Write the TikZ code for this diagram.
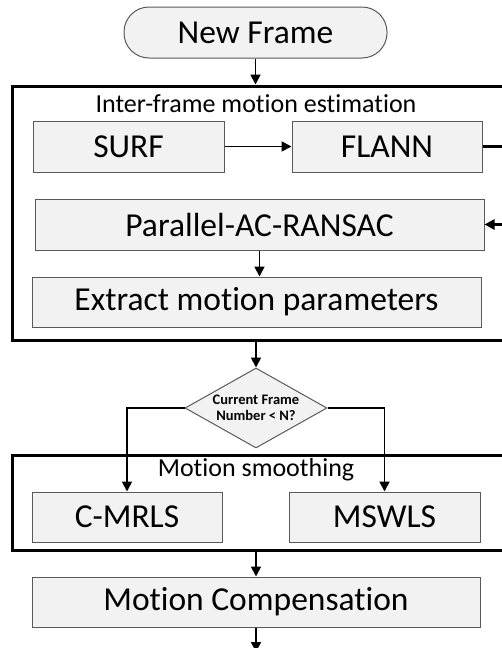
\documentclass[tikz,border=0pt]{standalone}
\usepackage{fontspec}
\setmainfont{Carlito}[Ligatures={NoCommon,NoRare}]
\usetikzlibrary{arrows.meta,shapes.geometric}
\definecolor{boxfill}{HTML}{F2F2F2}
\definecolor{boxline}{HTML}{595959}
\begin{document}
\begin{tikzpicture}[x=1pt,y=1pt,
  procbox/.style={draw=boxline, line width=1pt, fill=boxfill, inner sep=0pt,
    font=\fontsize{33.5}{36}\selectfont},
  container/.style={draw=black, line width=3pt, inner sep=0pt},
  titletext/.style={inner sep=0pt, font=\fontsize{26}{28}\selectfont},
  arr/.style={-{Triangle[length=10pt,width=10pt]}, line width=1.8pt},
  looparr/.style={-{Triangle[length=10pt,width=10pt]}, line width=2.8pt},
]
\useasboundingbox (0,0) rectangle (502,-648);
\clip (0,0) rectangle (502,-648);

\node[procbox, rounded corners=25pt, minimum width=263pt, minimum height=51pt] (nf) at (255.5,-32.5) {New Frame};

\node[container, minimum width=508pt, minimum height=254pt] (est) at (266,-213) {};
\node[titletext] (t1) at (256,-104) {Inter-frame motion estimation};
\node[procbox, minimum width=191pt, minimum height=51pt] (surf) at (128.5,-146.5) {SURF};
\node[procbox, minimum width=190pt, minimum height=51pt] (flann) at (387,-146.5) {FLANN};
\node[procbox, minimum width=449pt, minimum height=51pt] (ransac) at (259.5,-224.5) {Parallel-AC-RANSAC};
\node[procbox, minimum width=449pt, minimum height=50pt] (extract) at (256.5,-302) {Extract motion parameters};

\node[diamond, aspect=1.775, draw=boxline, line width=1pt, fill=boxfill, inner sep=0pt,
  minimum width=142pt, minimum height=80pt, align=center,
  font=\fontsize{14.5}{16}\selectfont\bfseries] (dec) at (256,-408) {Current Frame\\Number < N?};

\node[container, minimum width=508pt, minimum height=95pt] (smooth) at (266,-502.5) {};
\node[titletext] (t2) at (256,-470) {Motion smoothing};
\node[procbox, minimum width=190pt, minimum height=50pt] (cmrls) at (127,-517) {C-MRLS};
\node[procbox, minimum width=191pt, minimum height=50pt] (mswls) at (384.5,-517) {MSWLS};

\node[procbox, minimum width=448pt, minimum height=50pt] (mc) at (256,-602) {Motion Compensation};
\coordinate (out) at (256,-652);

\draw[arr] (nf.south) -- (nf.south |- est.north);
\draw[arr] (surf.east) -- (flann.west);
\draw[looparr] (flann.east) -- ++(40,0) |- (ransac.east);
\draw[arr] (ransac.south) -- (ransac.south |- extract.north);
\draw[arr] (est.south -| dec.north) -- (dec.north);
\draw[arr] (dec.west) -| (cmrls.north);
\draw[arr] (dec.east) -| (mswls.north);
\draw[arr] (smooth.south -| mc.north) -- (mc.north);
\draw[arr] (mc.south) -- (out);
\end{tikzpicture}
\end{document}
